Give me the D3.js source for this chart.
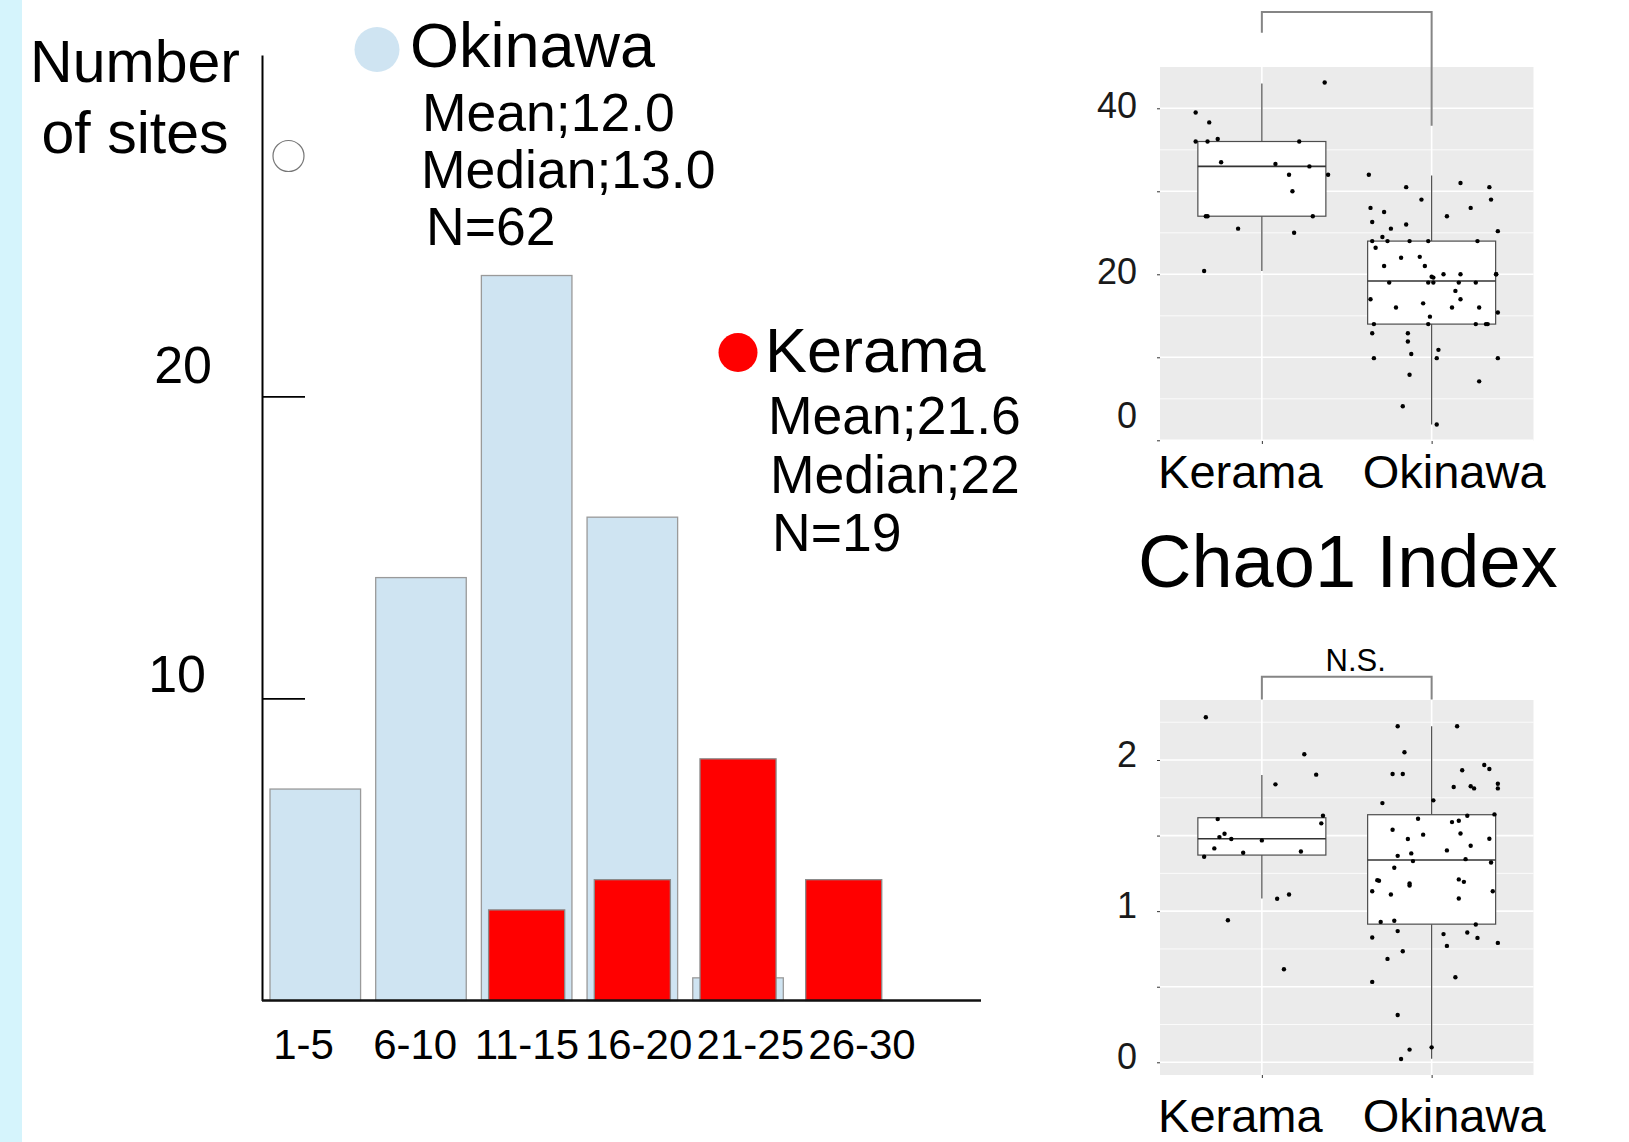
<!DOCTYPE html>
<html>
<head>
<meta charset="utf-8">
<script src="https://cdn.jsdelivr.net/npm/d3@7"></script>
<style>
  body { margin: 0; background: #fff; }
  svg { display: block; font-family: "Liberation Sans", Arial, sans-serif; }
</style>
</head>
<body>
<svg id="chart" width="1629" height="1142"></svg>
<script>
// ---- histogram data (number of sites per species-count bin) ----
const bins = ["1-5", "6-10", "11-15", "16-20", "21-25", "26-30"];
const okinawaCounts = [7, 14, 24, 16, 0.75, 0];
const keramaCounts = [0, 0, 3, 4, 8, 4];
const histTicks = [10, 20];

// legend text
const okinawaStats = ["Mean;12.0", "Median;13.0", "N=62"];
const keramaStats = ["Mean;21.6", "Median;22", "N=19"];

// ---- boxplot data ----
const groups = ["Kerama", "Okinawa"];

// Chao1 (top panel): box stats per group
const chaoQ1 = [27.0, 14.0];
const chaoMedian = [33.0, 19.2];
const chaoQ3 = [36.0, 24.0];
const chaoLow = [20.4, 1.9];
const chaoHigh = [43.0, 31.9];
// [jitter, value]
const chaoKerama = [[-0.39,39.5],[-0.31,38.3],[-0.39,36.0],[-0.32,36.0],[-0.26,36.3],[0.22,36.0],[-0.24,33.5],[0.08,33.3],[0.28,33.0],[0.16,32.0],[0.39,32.0],[0.18,30.0],[-0.33,27.0],[-0.32,27.0],[0.30,27.0],[-0.14,25.5],[0.19,25.0],[-0.34,20.4],[0.37,43.1]];
const chaoOkinawa = [[-0.37,32.0],[-0.15,30.5],[0.17,31.0],[0.34,30.5],[-0.06,29.0],[0.35,29.0],[-0.36,28.0],[-0.28,27.5],[0.23,28.0],[0.09,27.0],[-0.35,26.3],[-0.15,26.0],[-0.24,25.5],[0.39,25.2],[-0.29,24.5],[-0.35,24.0],[-0.26,24.0],[-0.13,24.0],[-0.02,24.0],[0.27,24.0],[-0.33,23.2],[-0.18,22.0],[-0.07,22.1],[-0.28,21.0],[-0.04,21.0],[0.00,19.7],[0.01,19.6],[0.07,20.0],[0.17,20.0],[0.38,20.0],[0.38,20.0],[-0.25,19.0],[-0.02,19.0],[0.01,19.0],[0.16,19.0],[0.26,19.0],[0.14,18.0],[-0.36,17.0],[0.17,17.0],[-0.05,16.5],[-0.21,16.0],[0.12,16.0],[0.28,16.0],[0.39,15.4],[-0.01,14.9],[-0.34,14.0],[-0.02,14.0],[0.26,14.0],[0.32,14.0],[0.33,14.0],[-0.35,12.9],[-0.14,12.9],[-0.14,11.9],[0.04,10.9],[-0.12,10.4],[-0.34,9.9],[0.03,9.9],[0.39,9.9],[-0.13,7.9],[0.28,7.1],[-0.17,4.1],[0.03,1.9]];
const chaoTicks = [0, 10, 20, 30, 40];
const chaoMinor = [5, 15, 25, 35];
const chaoBracket = [51.6, 49.1, 37.9]; // bar level, left tip, right tip

// second index (bottom panel)
const lowQ1 = [1.371, 0.914];
const lowMedian = [1.479, 1.338];
const lowQ3 = [1.618, 1.638];
const lowLow = [1.084, 0.024];
const lowHigh = [1.90, 2.223];
const lowKerama = [[-0.33,2.283],[0.25,2.038],[0.32,1.903],[0.08,1.839],[-0.26,1.609],[0.36,1.631],[0.35,1.581],[-0.22,1.512],[-0.25,1.490],[-0.18,1.477],[0.00,1.468],[-0.28,1.415],[-0.11,1.386],[0.23,1.395],[-0.34,1.360],[0.09,1.082],[0.16,1.110],[-0.20,0.940],[0.13,0.616]];
const lowOkinawa = [[-0.20,2.223],[0.15,2.223],[-0.16,2.051],[0.31,1.967],[0.34,1.940],[0.18,1.932],[-0.23,1.907],[-0.17,1.907],[0.39,1.843],[0.13,1.821],[0.23,1.826],[0.25,1.812],[0.39,1.812],[-0.29,1.715],[0.01,1.733],[0.37,1.640],[0.21,1.631],[-0.08,1.611],[0.12,1.589],[0.16,1.598],[-0.23,1.539],[0.17,1.514],[-0.05,1.506],[0.34,1.479],[-0.14,1.477],[0.23,1.433],[0.09,1.402],[-0.20,1.366],[-0.12,1.382],[-0.11,1.331],[0.20,1.344],[0.35,1.322],[-0.22,1.287],[-0.32,1.205],[-0.31,1.201],[0.16,1.210],[0.19,1.194],[-0.13,1.183],[-0.13,1.170],[-0.35,1.132],[-0.24,1.110],[0.36,1.132],[0.16,1.084],[-0.30,0.929],[-0.22,0.936],[0.26,0.912],[-0.20,0.868],[-0.35,0.826],[0.07,0.848],[0.21,0.859],[0.27,0.823],[0.09,0.770],[0.39,0.790],[-0.17,0.735],[-0.26,0.684],[-0.35,0.532],[0.14,0.563],[-0.20,0.313],[-0.13,0.084],[-0.18,0.022],[0.00,0.099]];
const lowTicks = [0, 0.5, 1, 1.5, 2];
const lowMinor = [0.25, 0.75, 1.25, 1.75, 2.25];
const lowBracket = [2.55, 2.40, 2.40];

const lightBlue = "#cfe4f2";
const red = "#ff0000";

const svg = d3.select("#chart");

// light cyan strip on the left edge
svg.append("rect").attr("x", 0).attr("y", 0).attr("width", 22).attr("height", 1142).attr("fill", "#d5f4fc");

// ================= Histogram =================
const xHist = d3.scaleBand().domain(bins).range([262, 897]).paddingInner(0.143).paddingOuter(0.0757);
const yHist = d3.scaleLinear().domain([0, 31.3]).range([1000.5, 55]);
const xLabel = d3.scalePoint().domain(bins).range([303, 861.5]);

const hist = svg.append("g");

hist.selectAll("rect.oki")
  .data(okinawaCounts)
  .enter()
  .append("rect")
  .attr("class", "oki")
  .attr("x", (d, i) => xHist(bins[i]))
  .attr("width", xHist.bandwidth())
  .attr("y", d => yHist(d))
  .attr("height", d => yHist(0) - yHist(d))
  .attr("fill", lightBlue)
  .attr("stroke", "#9a9a9a")
  .attr("stroke-width", 1.3)
  .style("display", d => d > 0 ? null : "none");

let redW = xHist.bandwidth() * 0.84;
hist.selectAll("rect.ker")
  .data(keramaCounts)
  .enter()
  .append("rect")
  .attr("class", "ker")
  .attr("x", (d, i) => xHist(bins[i]) + (xHist.bandwidth() - redW) / 2)
  .attr("width", redW)
  .attr("y", d => yHist(d))
  .attr("height", d => yHist(0) - yHist(d))
  .attr("fill", red)
  .attr("stroke", "#8a8a8a")
  .attr("stroke-width", 1.3)
  .style("display", d => d > 0 ? null : "none");

// y axis: ticks point inwards, labels on the left
const yAxisHist = d3.axisLeft(yHist).tickValues(histTicks).tickSizeInner(-43).tickSizeOuter(0).tickPadding(52);
const yg = hist.append("g").attr("transform", "translate(262,0)").call(yAxisHist);
yg.select(".domain").attr("stroke", "#000").attr("stroke-width", 2);
yg.selectAll(".tick line").attr("stroke", "#000").attr("stroke-width", 1.6);
yg.selectAll(".tick text").attr("font-size", 52).attr("fill", "#000").attr("font-family", "Liberation Sans, Arial, sans-serif")
  .attr("dy", d => d === 20 ? -14 : -7)
  .attr("dx", d => d === 20 ? 2 : -4);

// x axis baseline
hist.append("line").attr("x1", 262).attr("x2", 981).attr("y1", yHist(0)).attr("y2", yHist(0))
  .attr("stroke", "#111").attr("stroke-width", 2.5);

// bin labels
const xg = hist.append("g").attr("transform", "translate(0," + yHist(0) + ")")
  .call(d3.axisBottom(xLabel).tickSize(0).tickPadding(0));
xg.select(".domain").remove();
xg.selectAll(".tick text").attr("font-size", 42).attr("fill", "#000").attr("font-family", "Liberation Sans, Arial, sans-serif")
  .attr("y", 58).attr("dy", 0);

// y title
const yt = svg.append("text").attr("text-anchor", "middle").attr("font-size", 59).attr("fill", "#000");
yt.append("tspan").attr("x", 135).attr("y", 82).text("Number");
yt.append("tspan").attr("x", 135).attr("y", 153).text("of sites");

// small hollow circle
svg.append("circle").attr("cx", 288.5).attr("cy", 156).attr("r", 15.5)
  .attr("fill", "#fff").attr("stroke", "#777").attr("stroke-width", 1.2);

// legends
function legend(cx, cy, r, color, name, stats, tx, ty, sx, sy) {
  svg.append("circle").attr("cx", cx).attr("cy", cy).attr("r", r).attr("fill", color);
  svg.append("text").attr("x", tx).attr("y", ty).attr("font-size", 63).attr("fill", "#000").text(name);
  stats.forEach((s, i) => {
    svg.append("text").attr("x", sx[i]).attr("y", sy[i]).attr("font-size", 53.5).attr("fill", "#000").text(s);
  });
}
legend(377, 49.5, 22.5, lightBlue, "Okinawa", okinawaStats, 410, 67, [422, 421, 426], [131, 188, 245]);
legend(738, 352.5, 19.5, red, "Kerama", keramaStats, 765, 372, [768, 770, 772], [434, 493, 551]);

// ================= Boxplots =================
function boxPanel(opt) {
  const x = d3.scaleLinear().domain([0.4, 2.6]).range([1160, 1533.5]);
  const y = opt.y;
  const g = svg.append("g");

  g.append("rect").attr("x", x(0.4)).attr("y", opt.top).attr("width", x(2.6) - x(0.4)).attr("height", opt.bottom - opt.top)
    .attr("fill", "#ebebeb");

  const inPanel = v => y(v) >= opt.top && y(v) <= opt.bottom;
  g.selectAll("line.minor").data(opt.minor.filter(inPanel)).enter().append("line")
    .attr("x1", x(0.4)).attr("x2", x(2.6)).attr("y1", d => y(d)).attr("y2", d => y(d))
    .attr("stroke", "#fff").attr("stroke-width", 0.8);
  g.selectAll("line.major").data(opt.ticks.filter(inPanel)).enter().append("line")
    .attr("x1", x(0.4)).attr("x2", x(2.6)).attr("y1", d => y(d)).attr("y2", d => y(d))
    .attr("stroke", "#fff").attr("stroke-width", 1.6);
  g.selectAll("line.vmajor").data([1, 2]).enter().append("line")
    .attr("x1", d => x(d)).attr("x2", d => x(d)).attr("y1", opt.top).attr("y2", opt.bottom)
    .attr("stroke", "#fff").attr("stroke-width", 1.6);

  const half = 0.377;
  groups.forEach((grp, i) => {
    const c = i + 1;
    // whiskers
    g.append("line").attr("x1", x(c)).attr("x2", x(c)).attr("y1", y(opt.q3[i])).attr("y2", y(opt.hi[i]))
      .attr("stroke", "#4d4d4d").attr("stroke-width", 1.2);
    g.append("line").attr("x1", x(c)).attr("x2", x(c)).attr("y1", y(opt.q1[i])).attr("y2", y(opt.lo[i]))
      .attr("stroke", "#4d4d4d").attr("stroke-width", 1.2);
    g.append("rect").attr("x", x(c - half)).attr("width", x(c + half) - x(c - half))
      .attr("y", y(opt.q3[i])).attr("height", y(opt.q1[i]) - y(opt.q3[i]))
      .attr("fill", "#fff").attr("stroke", "#4d4d4d").attr("stroke-width", 1.2);
    g.append("line").attr("x1", x(c - half)).attr("x2", x(c + half)).attr("y1", y(opt.med[i])).attr("y2", y(opt.med[i]))
      .attr("stroke", "#333").attr("stroke-width", 1.6);
    // jittered points
    g.selectAll("circle.p" + i).data(opt.pts[i]).enter().append("circle")
      .attr("cx", d => x(c + d[0])).attr("cy", d => y(d[1])).attr("r", 2.2).attr("fill", "#000");
  });

  // y axis
  const ya = g.append("g").attr("transform", "translate(" + x(0.4) + ",0)")
    .call(d3.axisLeft(y).tickValues(opt.ticks).tickSize(3).tickPadding(20).tickFormat(opt.fmt));
  ya.select(".domain").remove();
  ya.selectAll(".tick line").attr("stroke", "#333");
  ya.selectAll(".tick text").attr("font-size", 36).attr("fill", "#1a1a1a")
    .attr("font-family", "Liberation Sans, Arial, sans-serif").attr("dy", opt.labelDy);

  // x axis
  const xa = g.append("g").attr("transform", "translate(0," + opt.bottom + ")")
    .call(d3.axisBottom(x).tickValues([1, 2]).tickSize(3).tickFormat((d, i) => groups[i]));
  xa.select(".domain").remove();
  xa.selectAll(".tick line").attr("stroke", "#333");
  xa.selectAll(".tick text").attr("font-size", 47).attr("fill", "#000")
    .attr("font-family", "Liberation Sans, Arial, sans-serif")
    .attr("y", opt.labelBase - opt.bottom).attr("dy", 0)
    .attr("dx", (d, i) => i === 0 ? -22 : 22);

  // significance bracket
  const b = opt.bracket;
  g.append("path")
    .attr("d", "M" + x(1) + "," + y(b[1]) + "V" + y(b[0]) + "H" + x(2) + "V" + y(b[2]))
    .attr("fill", "none").attr("stroke", "#858585").attr("stroke-width", 2);
  if (opt.sig) {
    g.append("text").attr("x", (x(1) + x(2)) / 2 + 9).attr("y", y(b[0]) - 6).attr("text-anchor", "middle")
      .attr("font-size", 31).attr("fill", "#000").text(opt.sig);
  }
}

boxPanel({
  y: d3.scaleLinear().domain([0, 40]).range([440.3, 108.3]),
  top: 67, bottom: 441,
  ticks: chaoTicks, minor: chaoMinor,
  fmt: d => d % 20 === 0 ? d : "",
  labelDy: d => d === 0 ? "-0.35em" : "0.25em",
  q1: chaoQ1, med: chaoMedian, q3: chaoQ3, lo: chaoLow, hi: chaoHigh,
  pts: [chaoKerama, chaoOkinawa],
  bracket: chaoBracket, sig: null,
  labelBase: 488
});

boxPanel({
  y: d3.scaleLinear().domain([0, 2]).range([1062.3, 760]),
  top: 700, bottom: 1075,
  ticks: lowTicks, minor: lowMinor,
  fmt: d => Number.isInteger(d) ? d : "",
  labelDy: "0.18em",
  q1: lowQ1, med: lowMedian, q3: lowQ3, lo: lowLow, hi: lowHigh,
  pts: [lowKerama, lowOkinawa],
  bracket: lowBracket, sig: "N.S.",
  labelBase: 1132
});

// panel title between the two boxplots
svg.append("text").attr("x", 1138).attr("y", 587).attr("font-size", 74).attr("fill", "#000").text("Chao1 Index");
</script>
</body>
</html>
